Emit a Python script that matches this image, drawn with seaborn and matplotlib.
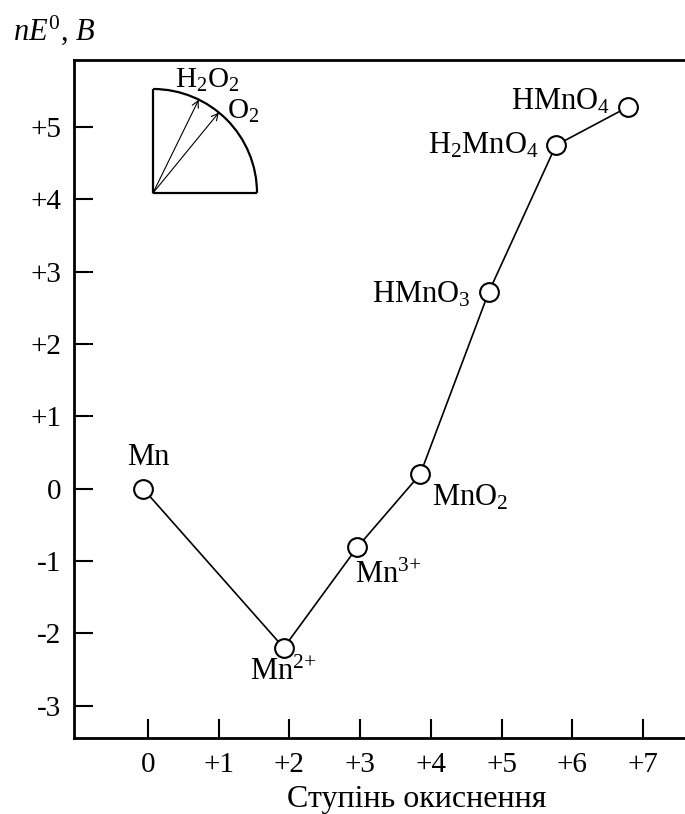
import matplotlib
matplotlib.use("Agg")
import numpy as np
import pandas as pd
import matplotlib.pyplot as plt
from matplotlib.patches import Arc
import seaborn as sns

# Frost diagram of manganese: nE0 against oxidation state
species = ["Mn", "Mn$^{2{+}}$", "Mn$^{3{+}}$", "MnO$_2$", "HMnO$_3$", "H$_2$MnO$_4$", "HMnO$_4$"]
oxidation_state = [-0.07, 1.92, 2.96, 3.85, 4.82, 5.77, 6.79]
nE0 = [0.0, -2.2, -0.81, 0.2, 2.72, 4.75, 5.28]

x_ticks = [0, 1, 2, 3, 4, 5, 6, 7]
x_tick_labels = ["0", "+1", "+2", "+3", "+4", "+5", "+6", "+7"]
y_ticks = [-3, -2, -1, 0, 1, 2, 3, 4, 5]
y_tick_labels = ["-3", "-2", "-1", "0", "+1", "+2", "+3", "+4", "+5"]

# oxygen reference arrows in the corner inset (angles in degrees)
ref_species = ["H$_2$O$_2$", "O$_2$"]
ref_angles = [63.9, 50.7]

# label placement relative to each point, in pixels
label_offsets = [(5, 24), (-34, -32), (-2, -36), (12, -31), (-18, -10), (-17, -8), (-18, -3)]
label_ha = ["center", "left", "left", "left", "right", "right", "right"]

sns.set_style("ticks")
plt.rcParams["font.family"] = ["Liberation Serif", "DejaVu Serif"]
plt.rcParams["mathtext.fontset"] = "custom"
plt.rcParams["mathtext.rm"] = "Liberation Serif"
plt.rcParams["mathtext.it"] = "Liberation Serif:italic"
plt.rcParams["mathtext.bf"] = "Liberation Serif:bold"
plt.rcParams["text.color"] = "black"
plt.rcParams["xtick.color"] = "black"
plt.rcParams["ytick.color"] = "black"
plt.rcParams["axes.edgecolor"] = "black"

df = pd.DataFrame({"state": oxidation_state, "nE0": nE0, "species": species})

fig = plt.figure(figsize=(6.85, 8.14), dpi=100)
ax = fig.add_axes([0.108, 0.0934, 0.892, 0.8329])

sns.lineplot(data=df, x="state", y="nE0", sort=False, ax=ax, color="black",
             linewidth=1.2, marker="o", markersize=13.5, markerfacecolor="white",
             markeredgecolor="black", markeredgewidth=1.5)

for name, xv, yv, (dx, dy), ha in zip(species, oxidation_state, nE0, label_offsets, label_ha):
    ax.annotate(name, xy=(xv, yv), xytext=(dx, dy), textcoords="offset pixels",
                ha=ha, va="baseline", fontsize=22, color="black")

ax.set_xlim(-1.047, 7.595)
ax.set_ylim(-3.448, 5.929)
ax.set_xticks(x_ticks)
ax.set_xticklabels(x_tick_labels)
ax.set_yticks(y_ticks)
ax.set_yticklabels(y_tick_labels)
ax.tick_params(axis="both", direction="in", length=14, width=1.5, labelsize=21,
               colors="black", top=False, right=False)
ax.tick_params(axis="y", pad=9)
ax.tick_params(axis="x", pad=10)
ax.set_xlabel("")
ax.set_ylabel("")
for side in ["left", "top", "bottom"]:
    ax.spines[side].set_linewidth(2.0)
    ax.spines[side].set_color("black")
ax.spines["right"].set_visible(False)

fig.text(416.5 / 685, 1 - 807 / 814, "Ступінь окиснення", ha="center", va="baseline",
         fontsize=23, color="black")
fig.text(13 / 685, 1 - 40 / 814, r"$nE^{\mathit{0}}\mathit{,}\ B$", ha="left", va="baseline",
         fontsize=22, color="black")

# quarter-circle inset with the oxygen reference vectors
ax_in = fig.add_axes([153 / 685, 1 - 193 / 814, 104 / 685, 104 / 814])
ax_in.set_xlim(0, 1)
ax_in.set_ylim(0, 1)
ax_in.axis("off")
ax_in.add_patch(Arc((0, 0), 2, 2, theta1=0, theta2=90, lw=1.6, color="black", clip_on=False))
ax_in.plot([0, 0], [0, 1], color="black", lw=1.6, clip_on=False, solid_capstyle="butt")
ax_in.plot([0, 1], [0, 0], color="black", lw=1.6, clip_on=False, solid_capstyle="butt")
for ang in ref_angles:
    t = np.deg2rad(ang)
    ax_in.annotate("", xy=(np.cos(t), np.sin(t)), xytext=(0, 0),
                   arrowprops=dict(arrowstyle="->", lw=0.8, color="black",
                                   shrinkA=0, shrinkB=0, mutation_scale=12))
ax_in.text(0.21, 1.01, ref_species[0], ha="left", va="baseline", fontsize=21, color="black")
ax_in.text(0.71, 0.71, ref_species[1], ha="left", va="baseline", fontsize=21, color="black")

fig.savefig("out.png", dpi=100, facecolor="white")
